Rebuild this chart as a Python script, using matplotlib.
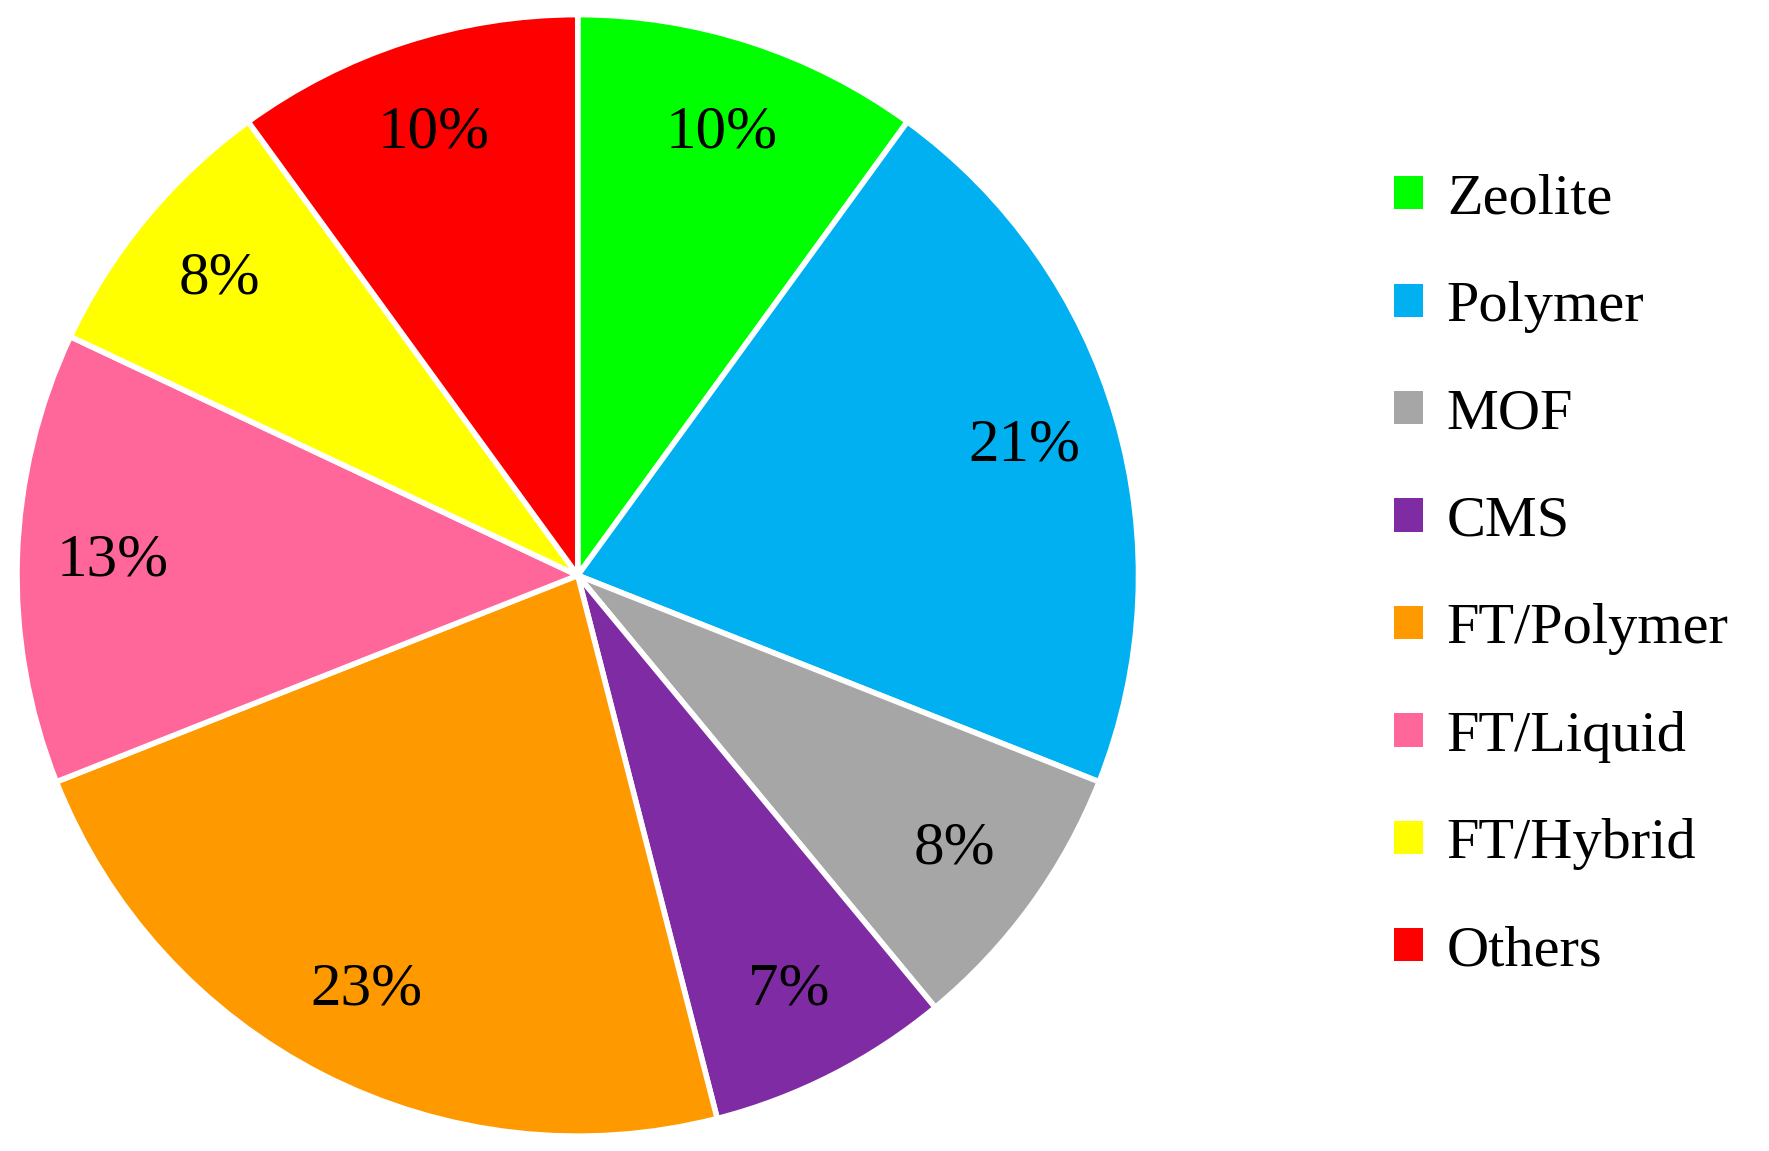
import matplotlib
matplotlib.use("Agg")
import matplotlib.pyplot as plt
from matplotlib.patches import Patch

labels = ["Zeolite", "Polymer", "MOF", "CMS", "FT/Polymer", "FT/Liquid", "FT/Hybrid", "Others"]
values = [10, 21, 8, 7, 23, 13, 8, 10]
colors = ["#00FF00", "#00B0F0", "#A6A6A6", "#7F2BA3", "#FF9900", "#FF6699", "#FFFF00", "#FF0000"]

plt.rcParams['font.family'] = ['Liberation Serif', 'DejaVu Serif']
fig = plt.figure(figsize=(17.69, 11.51), dpi=100)
ax = fig.add_axes([0.0096, 0.0126, 0.634, 0.975])
ax.pie(values, colors=colors, startangle=90, counterclock=False,
       autopct='%d%%', pctdistance=0.83,
       wedgeprops=dict(edgecolor='white', linewidth=4),
       textprops=dict(fontsize=44, color='black'))
ax.set_xlim(-1.0, 1.0)
ax.set_ylim(-1.0, 1.0)
ax.set_aspect('equal')
handles = [Patch(facecolor=c, edgecolor='none', label=l) for l, c in zip(labels, colors)]
fig.legend(handles=handles, loc='center left', bbox_to_anchor=(0.775, 0.5), frameon=False,
           fontsize=42, handlelength=0.5, handleheight=0.5, handletextpad=0.4,
           labelspacing=0.95, borderaxespad=0)
fig.savefig("out.png", dpi=100)
